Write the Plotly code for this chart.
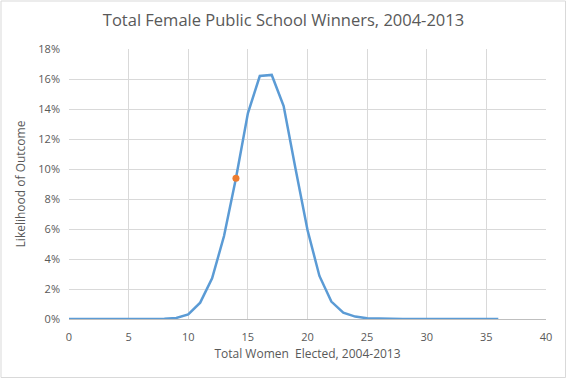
import plotly.graph_objects as go

women_elected = list(range(0, 37))
likelihood_pct = [0, 0, 0, 0, 0, 0, 0, 0, 0.01, 0.07, 0.31, 1.09, 2.71, 5.53, 9.38, 13.71,
                  16.2, 16.27, 14.2, 10.0, 5.93, 2.87, 1.16, 0.42, 0.16, 0.05, 0.02, 0.01,
                  0, 0, 0, 0, 0, 0, 0, 0, 0]
actual_x = [14]
actual_pct = [9.38]

likelihood = [v / 100 for v in likelihood_pct]
actual = [v / 100 for v in actual_pct]

font_fam = "Open Sans, Liberation Sans, sans-serif"
grey = "#595959"

fig = go.Figure()
fig.add_trace(go.Scatter(x=women_elected, y=likelihood, mode="lines",
                         line=dict(color="#5b9bd5", width=2.5), showlegend=False,
                         hoverinfo="skip"))
fig.add_trace(go.Scatter(x=actual_x, y=actual, mode="markers",
                         marker=dict(color="#ed7d31", size=7), showlegend=False))

fig.update_layout(
    width=567, height=379,
    margin=dict(l=69, r=21, t=49, b=60),
    paper_bgcolor="white", plot_bgcolor="white",
    title=dict(text="Total Female Public School Winners, 2004-2013", x=0.5, xanchor="center",
               y=0.947, yanchor="middle",
               font=dict(family=font_fam, size=16.5, color=grey)),
    xaxis=dict(range=[0, 40], tickmode="linear", tick0=0, dtick=5,
               showgrid=True, gridcolor="#d9d9d9", gridwidth=1,
               showline=True, linecolor="#bfbfbf", linewidth=1, zeroline=False,
               ticks="", ticklabelstandoff=8,
               tickfont=dict(family=font_fam, size=11, color=grey),
               title=dict(text="Total Women  Elected, 2004-2013", standoff=6,
                          font=dict(family=font_fam, size=12, color=grey))),
    yaxis=dict(range=[0, 0.18], tickmode="linear", tick0=0, dtick=0.02, tickformat=".0%",
               showgrid=True, gridcolor="#d9d9d9", gridwidth=1,
               showline=False, zeroline=False, ticks="", ticklabelstandoff=8,
               tickfont=dict(family=font_fam, size=11, color=grey),
               title=dict(text="Likelihood of Outcome", standoff=10,
                          font=dict(family=font_fam, size=12, color=grey))),
    shapes=[dict(type="rect", xref="paper", yref="paper",
                 x0=(1 - 69) / 477, x1=(565.5 - 69) / 477,
                 y0=(319 - 377.5) / 270, y1=(319 - 1) / 270,
                 line=dict(color="#d9d9d9", width=1), layer="below")],
)

fig.write_html("out.html", config={"displayModeBar": False},
               post_script="document.body.style.margin='0';")
